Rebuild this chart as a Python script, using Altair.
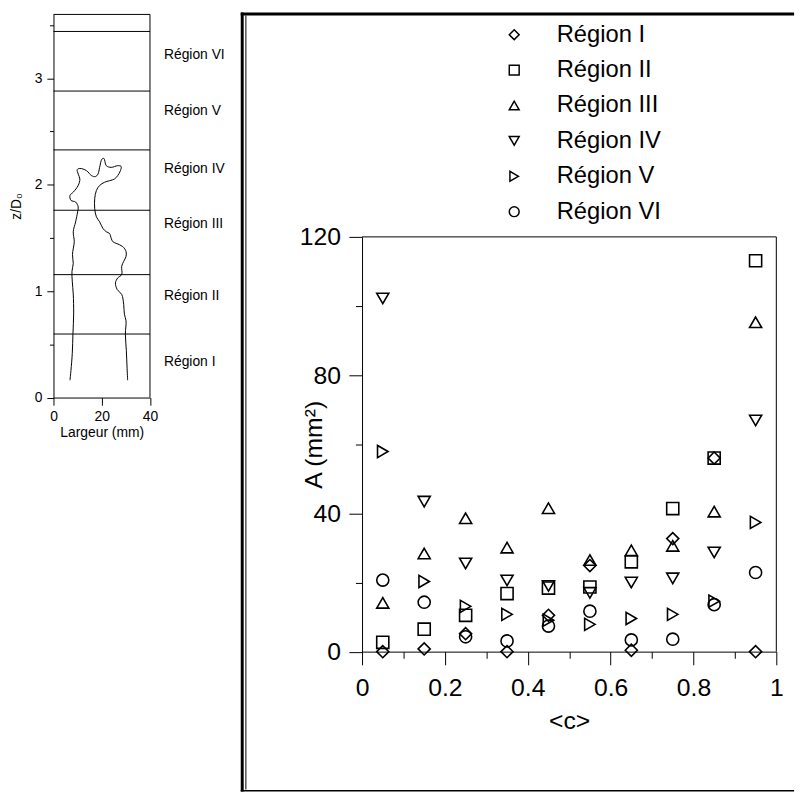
import altair as alt
import pandas as pd

# ---------------- main scatter data ----------------
c_values = [0.05, 0.15, 0.25, 0.35, 0.45, 0.55, 0.65, 0.75, 0.85, 0.95]
regions = ["Région I", "Région II", "Région III", "Région IV", "Région V", "Région VI"]
shapes = ["diamond", "square", "triangle-up", "triangle-down", "triangle-right", "circle"]
region_I = [0.0, 0.8, 5.2, 0.0, 10.5, 24.9, 0.4, 32.7, 56.0, 0.0]
region_II = [2.7, 6.5, 10.5, 16.8, 18.4, 18.7, 26.0, 41.4, 56.0, 113.1]
region_III = [14.1, 28.4, 38.6, 30.1, 41.5, 26.5, 29.3, 30.6, 40.5, 95.3]
region_IV = [102.2, 43.4, 25.5, 20.6, 19.0, 17.0, 20.0, 21.2, 28.7, 66.9]
region_V = [57.9, 20.3, 13.1, 10.8, 9.1, 7.9, 9.6, 10.8, 14.6, 37.4]
region_VI = [20.7, 14.3, 4.3, 3.1, 7.4, 11.7, 3.4, 3.6, 13.6, 22.9]
series = [region_I, region_II, region_III, region_IV, region_V, region_VI]

c_ticks = [0, 0.1, 0.2, 0.3, 0.4, 0.5, 0.6, 0.7, 0.8, 0.9, 1.0]
a_ticks = [0, 20, 40, 60, 80, 100, 120]
c_domain = [0, 1]
a_domain = [0, 120]

# ---------------- left panel data ----------------
z_ticks = [0, 0.5, 1, 1.5, 2, 2.5, 3, 3.5]
w_ticks = [0, 10, 20, 30, 40]
w_domain = [0, 40]
z_domain = [0, 3.6]
region_bounds = [0.597, 1.155, 1.76, 2.327, 2.88, 3.44]
region_label_z = [0.333, 0.953, 1.635, 2.147, 2.69, 3.217]
region_label_w = [45.8] * 6
flame_w = [6.84, 7.25, 7.79, 8.07, 8.36, 8.20, 7.79, 7.66, 8.20, 7.87, 8.61, 8.20, 9.18,
           10.00, 10.25, 9.18, 7.25, 6.84, 8.20, 10.25, 10.94, 10.25, 9.84, 10.94,
           13.69, 15.74, 17.38, 18.44, 19.14, 20.08, 20.90, 21.89, 23.93, 26.64, 28.03,
           27.75, 26.64, 25.29, 21.19, 19.14, 17.79, 17.09,
           17.09, 17.79, 19.14, 20.49, 21.89, 23.24, 23.93, 24.59, 25.98, 28.69, 30.08,
           30.08, 29.10, 28.28, 28.28, 26.64, 25.70, 26.39, 28.28, 29.10, 29.39, 30.08,
           29.80, 30.20, 30.49, 30.74]
flame_z = [0.163, 0.256, 0.414, 0.600, 0.786, 0.972, 1.093, 1.186, 1.260, 1.344, 1.465, 1.558, 1.651,
           1.744, 1.791, 1.837, 1.853, 1.900, 1.930, 1.993, 2.054, 2.100, 2.141, 2.153,
           2.132, 2.086, 2.076, 2.100, 2.163, 2.240, 2.247, 2.179, 2.163, 2.179, 2.172,
           2.132, 2.086, 2.054, 2.023, 1.993, 1.946, 1.868,
           1.775, 1.698, 1.651, 1.589, 1.558, 1.542, 1.496, 1.465, 1.449, 1.419, 1.372,
           1.326, 1.279, 1.233, 1.155, 1.124, 1.077, 1.016, 0.969, 0.876, 0.783, 0.721,
           0.597, 0.442, 0.287, 0.163]

FONT = "Liberation Sans"

# ---------------- build tables ----------------
rows = []
for reg, vals in zip(regions, series):
    for c, a in zip(c_values, vals):
        rows.append({"c": c, "A": a, "region": reg})
df_main = pd.DataFrame(rows)

df_flame = pd.DataFrame({"w": flame_w, "z": flame_z, "i": list(range(len(flame_w)))})
df_bounds = pd.DataFrame({"z": region_bounds, "w0": [w_domain[0]] * 6, "w1": [w_domain[1]] * 6})
df_labels = pd.DataFrame({"w": region_label_w, "z": region_label_z, "t": regions})
one = pd.DataFrame({"a": [0]})

# ---------------- left panel ----------------
LW, LH = 97.6, 387.5
xl = alt.Scale(domain=w_domain, nice=False, zero=False)
yl = alt.Scale(domain=z_domain, nice=False, zero=False)

xl_axis = alt.Axis(
    values=w_ticks,
    labelExpr="datum.value % 20 === 0 ? toString(datum.value) : ''",
    tickSize={"condition": {"test": "datum.value % 20 === 0", "value": 7.7}, "value": 4.3},
    labelFontSize=14, labelPadding=5, title="Largeur (mm)", titleFontSize=14,
    titleY=28.5, grid=False, labelFlush=False, labelOverlap=False,
)
yl_axis = alt.Axis(
    values=z_ticks,
    labelExpr="datum.value % 1 === 0 ? toString(datum.value) : ''",
    tickSize={"condition": {"test": "datum.value % 1 === 0", "value": 6.7}, "value": 4},
    labelFontSize=14, labelPadding=5, title="z/D₀", titleFontSize=14,
    titleX=-30, grid=False, labelFlush=False, labelOverlap=False,
)

flame = alt.Chart(df_flame).mark_line(color="black", strokeWidth=1, interpolate="catmull-rom").encode(
    x=alt.X("w:Q", scale=xl, axis=xl_axis),
    y=alt.Y("z:Q", scale=yl, axis=yl_axis),
    order="i:Q",
)
bound_rules = alt.Chart(df_bounds).mark_rule(color="black", strokeWidth=1).encode(
    x=alt.X("w0:Q", scale=xl), x2="w1:Q", y=alt.Y("z:Q", scale=yl)
)
left_top = alt.Chart(pd.DataFrame({"w0": [w_domain[0]], "w1": [w_domain[1]], "z": [z_domain[1]]})).mark_rule(
    color="black", strokeWidth=1).encode(x=alt.X("w0:Q", scale=xl), x2="w1:Q", y=alt.Y("z:Q", scale=yl))
left_right = alt.Chart(pd.DataFrame({"w": [w_domain[1]], "z0": [z_domain[0]], "z1": [z_domain[1]]})).mark_rule(
    color="black", strokeWidth=1).encode(x=alt.X("w:Q", scale=xl), y=alt.Y("z0:Q", scale=yl), y2="z1:Q")
labels = alt.Chart(df_labels).mark_text(align="left", baseline="middle", fontSize=14, color="black", font=FONT).encode(
    x=alt.X("w:Q", scale=xl), y=alt.Y("z:Q", scale=yl), text="t:N"
)
anchor = alt.Chart(one).mark_rule(strokeOpacity=0).encode(
    x=alt.value(-45.3), y=alt.value(0), y2=alt.value(5)
)
left = alt.layer(flame, bound_rules, left_top, left_right, labels, anchor).properties(width=LW, height=LH)

# ---------------- right panel ----------------
RW, RH = 419, 644.5
xr = alt.Scale(domain=c_domain, nice=False, zero=False)
yr = alt.Scale(domain=a_domain, range=[644.5, 225], nice=False, zero=False)

xr_axis = alt.Axis(
    values=c_ticks,
    labelExpr="round(datum.value*10) % 2 === 0 ? toString(round(datum.value*10)/10) : ''",
    tickSize={"condition": {"test": "round(datum.value*10) % 2 === 0", "value": 13.3}, "value": 6.7},
    labelFontSize=25, labelPadding=11, title="<c>", titleFontSize=25, titleY=58,
    grid=False, labelFlush=False, labelOverlap=False,
)
yr_axis = alt.Axis(
    values=a_ticks,
    labelExpr="datum.value % 40 === 0 ? toString(datum.value) : ''",
    tickSize={"condition": {"test": "datum.value % 40 === 0", "value": 13.3}, "value": 6.7},
    labelFontSize=25, labelPadding=8.4, title="A (mm²)", titleFontSize=25, titleX=-36,
    grid=False, labelFlush=False, labelOverlap=False,
)

points = alt.Chart(df_main).mark_point(filled=False, size=150, strokeWidth=1.6, color="black", opacity=1).encode(
    x=alt.X("c:Q", scale=xr, axis=xr_axis),
    y=alt.Y("A:Q", scale=yr, axis=yr_axis),
    shape=alt.Shape("region:N", scale=alt.Scale(domain=regions, range=shapes),
                    legend=alt.Legend(title=None, orient="none", legendX=454, legendY=8.5,
                                      labelFontSize=24, labelFont=FONT, labelColor="black",
                                      symbolSize=100, symbolStrokeWidth=1.5, symbolStrokeColor="black",
                                      symbolOpacity=1, rowPadding=11.8, labelOffset=31, padding=0)),
)
top_rule = alt.Chart(pd.DataFrame({"c0": [c_domain[0]], "c1": [c_domain[1]], "A": [a_domain[1]]})).mark_rule(
    color="black", strokeWidth=1).encode(x=alt.X("c0:Q", scale=xr), x2="c1:Q", y=alt.Y("A:Q", scale=yr))
right_rule = alt.Chart(pd.DataFrame({"c": [c_domain[1]], "A0": [a_domain[0]], "A1": [a_domain[1]]})).mark_rule(
    color="black", strokeWidth=1).encode(x=alt.X("c:Q", scale=xr), y=alt.Y("A0:Q", scale=yr), y2="A1:Q")

# decorative double frame around the right panel (pixel positions relative to its plot origin)
def frame_rect(x0, x1, y0, y1):
    return alt.Chart(one).mark_rect(color="black").encode(
        x=alt.value(x0), x2=alt.value(x1), y=alt.value(y0), y2=alt.value(y1))

frame = [
    frame_rect(-122.7, -119.7, -2, 786),   # outer left (thick)
    frame_rect(-118, -117, 1, 784),        # inner left (thin)
    frame_rect(-122.7, 437, -2, 1),        # top
    frame_rect(-122.7, 437, 784.5, 786),   # bottom
]

right = alt.layer(top_rule, right_rule, points, *frame).properties(width=RW, height=RH)

chart = alt.hconcat(left, right, spacing=214.1, bounds="flush").properties(padding=0).configure(
    font=FONT
).configure_view(stroke=None).configure_axis(
    domainColor="black", tickColor="black", labelColor="black", titleColor="black",
    domainWidth=1, tickWidth=1, titleFontWeight="normal", labelFont=FONT, titleFont=FONT
)

chart.save("out.html", embed_options={"renderer": "svg", "actions": False})
